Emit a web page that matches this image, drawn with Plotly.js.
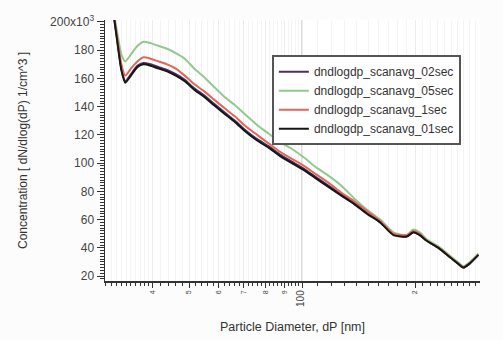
<!DOCTYPE html>
<html><head><meta charset="utf-8">
<script src="https://cdn.plot.ly/plotly-3.0.1.min.js"></script>
<style>html,body{margin:0;padding:0;background:#fcfcfc}#chart{width:503px;height:340px}</style>
</head><body><div id="chart"></div>
<script>
// Particle diameter (nm)
const diameter = [31.6,32.3,33.0,33.8,35.0,36.4,37.8,39.5,41.5,43.7,46.1,48.7,51.6,54.8,58.3,62.1,66.3,70.9,75.9,81.4,87.4,94.0,101.2,109.1,117.8,127.3,137.7,149.1,161.6,175.2,190.0,198,206,215,231,249,260,269,280,295];
// Concentration series (x10^3)
const scan02sec = [202,184,167,158,163,169,171,170,168,166,163,159,153,148,142,136,130,123,117,112,106,101,96,90,84,78,72,65,58,50,48,51,49,45,40,33,29,26,29,35];
const scan05sec = [204,190,177,172,177,183,186,185,183,181,178,174,167,161,154,147,141,134,127,121,115,110,104,97,91,84,75,67,60,51,49,53,51,46,41,34,30,27,30,36];
const scan1sec  = [203,186,170,162,167,172,175,174,172,170,167,162,156,151,145,139,133,126,120,114,108,103,98,92,86,79,73,66,59,50,49,52,50,45,40,33,29,26,29,35];
const scan01sec = [202,183,166,157,162,168,170,169,167,165,162,158,152,147,141,135,129,122,116,111,105,100,95,89,83,77,71,64,58,49,48,51,49,45,40,33,29,26,29,35];
const seriesNames = ["dndlogdp_scanavg_02sec","dndlogdp_scanavg_05sec","dndlogdp_scanavg_1sec","dndlogdp_scanavg_01sec"];
const seriesColors = ["#4e2f58","#93c98f","#e0675c","#161616"];
// Axis ticks
const xTickVals = [40,50,60,70,80,90,100,200];
const xTickText = ["4","5","6","7","8","9","<span style='font-size:10px'>100</span>","2"];
const xMinorVals = [30,31,32,33,34,35,36,37,38,39,42,44,46,48,52,54,56,58,62,64,66,68,72,74,76,78,82,84,86,88,92,94,96,98,110,120,130,140,150,160,170,180,190,210,220,230,240,250,260,270,280,290];
const yTickVals = [20,40,60,80,100,120,140,160,180,200];
const yTickText = ["20","40","60","80","100","120","140","160","180","200x10<sup>3</sup>"];

const data = [scan02sec, scan05sec, scan1sec, scan01sec].map((v,i)=>({
  x: diameter, y: v, type:'scatter', mode:'lines', name: seriesNames[i],
  line:{color:seriesColors[i], width:2, shape:'spline', smoothing:0.6}
}));

const layout = {
  width:503, height:340,
  margin:{l:105, r:23, t:20, b:59},
  paper_bgcolor:'#fcfcfc', plot_bgcolor:'#ffffff',
  font:{family:'Liberation Sans, Arial, sans-serif', color:'#333'},
  showlegend:true,
  legend:{x:0.445, y:0.865, xanchor:'left', yanchor:'top', bgcolor:'#ffffff',
    bordercolor:'#555', borderwidth:2, font:{size:12, color:'#333'}, tracegroupgap:0},
  xaxis:{type:'log', range:[Math.log10(29.85), Math.log10(298)],
    tickmode:'array', tickvals:xTickVals, ticktext:xTickText, tickangle:-90,
    tickfont:{size:7, color:'#444'}, ticks:'outside', ticklen:5, tickcolor:'#333',
    showgrid:true, gridcolor:'#ececec', gridwidth:1,
    minor:{tickmode:'array', tickvals:xMinorVals, ticks:'outside', ticklen:3, tickcolor:'#333', showgrid:true, gridcolor:'#f4f4f4'},
    showline:true, linecolor:'#333', linewidth:1.5, zeroline:false,
    title:{text:'Particle Diameter, dP [nm]', font:{size:12.5, color:'#333'}, standoff:16}},
  yaxis:{range:[16.5, 201.4], tickmode:'array', tickvals:yTickVals, ticktext:yTickText,
    tickfont:{size:12, color:'#444'}, ticks:'outside', ticklen:7, tickcolor:'#333',
    minor:{dtick:2, ticks:'outside', ticklen:4, tickcolor:'#333'},
    showgrid:false, showline:true, linecolor:'#333', linewidth:1.5, zeroline:false,
    title:{text:'Concentration [ dN/dlog(dP) 1/cm^3 ]', font:{size:12, color:'#333'}, standoff:20}},
  shapes:[{type:'line', xref:'x', yref:'paper', x0:100, x1:100, y0:0, y1:1, line:{color:'#cfcfcf', width:1.5}, layer:'below'}]
};
Plotly.newPlot('chart', data, layout, {staticPlot:true});
</script></body></html>
